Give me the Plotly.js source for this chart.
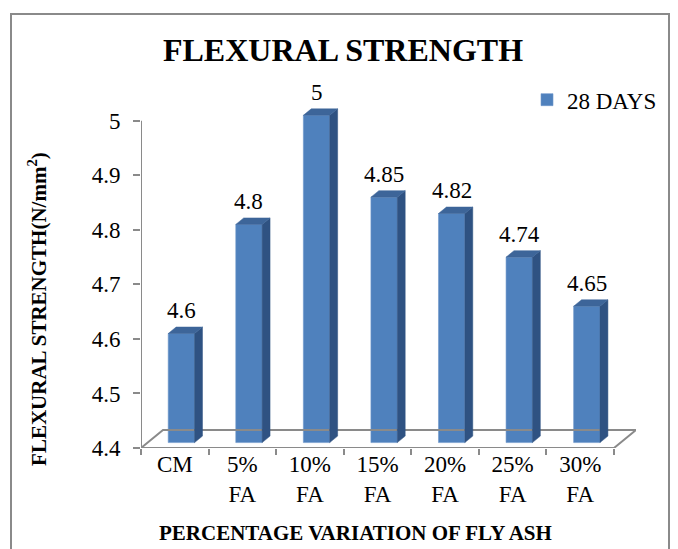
<!DOCTYPE html>
<html>
<head>
<meta charset="utf-8">
<script src="https://cdn.plot.ly/plotly-3.0.1.min.js"></script>
<style>
  html, body { margin: 0; padding: 0; background: #ffffff; overflow: hidden; }
  #wrap { position: relative; width: 678px; height: 549px; }
  #chart { position: absolute; left: 0; top: 0; width: 678px; height: 549px; }
  #frame { position: absolute; left: 10px; top: 13px; width: 656px; height: 560px;
           border: 2px solid #8a8a8a; pointer-events: none; }
</style>
</head>
<body>
<div id="wrap">
  <div id="chart"></div>
  <div id="frame"></div>
</div>
<script>
// ---- data ----
const categories = ['CM', '5% FA', '10% FA', '15% FA', '20% FA', '25% FA', '30% FA'];
const tickLabels = ['CM', '5%<br>FA', '10%<br>FA', '15%<br>FA', '20%<br>FA', '25%<br>FA', '30%<br>FA'];
const values = [4.6, 4.8, 5.0, 4.85, 4.82, 4.74, 4.65];
const seriesName = '28 DAYS';
const yTickVals = [4.4, 4.5, 4.6, 4.7, 4.8, 4.9, 5.0];
const chartTitle = 'FLEXURAL STRENGTH';
const xTitle = 'PERCENTAGE VARIATION OF FLY ASH';
const yTitle = 'FLEXURAL STRENGTH(N/mm<sup>2</sup>)';

// ---- geometry (styling) ----
const W = 678, H = 549;
const L = 141, B = 448;           // plot-area left / bottom in px
const pxPerX = 67.57;             // px per category
const pxPerY = 545;               // px per unit of value
const yMin = 4.4;
const depthPx = [22, 18];         // floor depth (pseudo 3D)
const du = depthPx[0] / pxPerX, dv = depthPx[1] / pxPerY;
const fx = 0.3 * du, fy = 0.3 * dv;        // bar plane offset
const gx = 0.36 * du, gy = 0.36 * dv;      // bar depth
const barW = 0.39;
const xRange = [-0.5, categories.length - 0.5 + du];
const yRange = [yMin, 5.06];
const R = L + (xRange[1] - xRange[0]) * pxPerX;
const T = B - (yRange[1] - yRange[0]) * pxPerY;
const serif = "'Liberation Serif', 'Times New Roman', Times, serif";
const frontColor = '#4F81BD', sideColor = '#2F5282', topColor = '#3D6599', grey = '#8a8a8a';

const idx = categories.map((c, i) => i);
const px2paperX = p => (p - L) / (R - L);
const px2paperY = p => (B - p) / (B - T);

// floor outline
const n = categories.length;
const floor = {
  type: 'scatter', mode: 'lines', hoverinfo: 'skip', showlegend: false,
  x: [-0.5, n - 0.5, n - 0.5 + du, -0.5 + du, -0.5],
  y: [yMin, yMin, yMin + dv, yMin + dv, yMin],
  line: { color: grey, width: 2 }
};

// front faces
const bars = {
  type: 'bar', name: seriesName,
  x: idx.map(i => i + fx),
  y: values.map(v => v - yMin),
  base: values.map(() => yMin + fy),
  width: barW,
  marker: { color: frontColor, line: { color: '#6E97CB', width: 0.6 } },
  hoverinfo: 'skip'
};

// side & top faces
const sx = [], sy = [], tx = [], ty = [];
values.forEach((v, i) => {
  const xl = i + fx - barW / 2, xr = i + fx + barW / 2;
  const b0 = yMin + fy, t0 = v + fy;
  sx.push(xr, xr, xr + gx, xr + gx, xr, null);
  sy.push(b0, t0, t0 + gy, b0 + gy, b0, null);
  tx.push(xl, xr, xr + gx, xl + gx, xl, null);
  ty.push(t0, t0, t0 + gy, t0 + gy, t0, null);
});
const sides = { type: 'scatter', mode: 'lines', x: sx, y: sy, fill: 'toself', fillcolor: sideColor,
  line: { color: sideColor, width: 0.5 }, showlegend: false, hoverinfo: 'skip' };
const tops = { type: 'scatter', mode: 'lines', x: tx, y: ty, fill: 'toself', fillcolor: topColor,
  line: { color: topColor, width: 0.5 }, showlegend: false, hoverinfo: 'skip' };

// boundary ticks on the category axis
const boundaries = idx.map(i => i - 0.5).concat([n - 0.5]);
const tickHolder = { type: 'scatter', mode: 'none', x: boundaries, y: boundaries.map(() => yMin),
  xaxis: 'x2', showlegend: false, hoverinfo: 'skip' };

const annotations = values.map((v, i) => ({
  x: i + fx, y: v + fy, xref: 'x', yref: 'y', text: String(v), showarrow: false,
  xanchor: 'center', yanchor: 'middle', yshift: 23, font: { family: serif, size: 23, color: '#000' }
}));
annotations.push({
  xref: 'paper', yref: 'paper', x: px2paperX(38), y: px2paperY(309), text: yTitle,
  xanchor: 'center', yanchor: 'middle',
  textangle: -90, showarrow: false, font: { family: serif, size: 21, color: '#000', weight: 'bold' }
});
annotations.push({
  xref: 'paper', yref: 'paper', x: px2paperX(355), y: px2paperY(533), text: xTitle,
  xanchor: 'center', yanchor: 'middle',
  showarrow: false, font: { family: serif, size: 21, color: '#000', weight: 'bold' }
});

const layout = {
  width: W, height: H,
  margin: { l: L, r: W - R, t: T, b: H - B, pad: 0 },
  paper_bgcolor: 'rgba(0,0,0,0)', plot_bgcolor: 'rgba(0,0,0,0)',
  font: { family: serif, color: '#000' },
  title: { text: chartTitle, x: 343 / W, xref: 'container', xanchor: 'center',
           y: 1 - 50 / H, yref: 'container', yanchor: 'middle',
           font: { family: serif, size: 32, color: '#000', weight: 'bold' } },
  showlegend: true,
  legend: { xref: 'paper', yref: 'paper', x: px2paperX(527), y: px2paperY(100),
            xanchor: 'left', yanchor: 'middle', font: { family: serif, size: 23, color: '#000' },
            itemwidth: 30, bgcolor: 'rgba(0,0,0,0)' },
  xaxis: { range: xRange, tickmode: 'array', tickvals: idx, ticktext: tickLabels,
           ticks: '', showgrid: false, zeroline: false, showline: false,
           tickfont: { family: serif, size: 23, color: '#000' }, fixedrange: true },
  xaxis2: { overlaying: 'x', anchor: 'y', side: 'bottom', range: xRange, tickmode: 'array',
            tickvals: boundaries, showticklabels: false, ticks: 'outside', ticklen: 6,
            tickwidth: 2, tickcolor: grey, showgrid: false, zeroline: false, showline: false },
  yaxis: { range: yRange, tickmode: 'array', tickvals: yTickVals, ticks: 'outside', ticklen: 7,
           tickwidth: 2, tickcolor: grey, showgrid: false, zeroline: false, showline: false,
           ticklabelstandoff: 8,
           tickfont: { family: serif, size: 23, color: '#000' }, fixedrange: true },
  shapes: [{ type: 'line', xref: 'x', yref: 'y', x0: -0.5, x1: -0.5, y0: yMin,
             y1: yTickVals[yTickVals.length - 1], line: { color: grey, width: 2 } }],
  annotations: annotations,
  bargap: 0
};

Plotly.newPlot('chart', [floor, tickHolder, bars, sides, tops], layout, { staticPlot: true, displayModeBar: false });
</script>
</body>
</html>
